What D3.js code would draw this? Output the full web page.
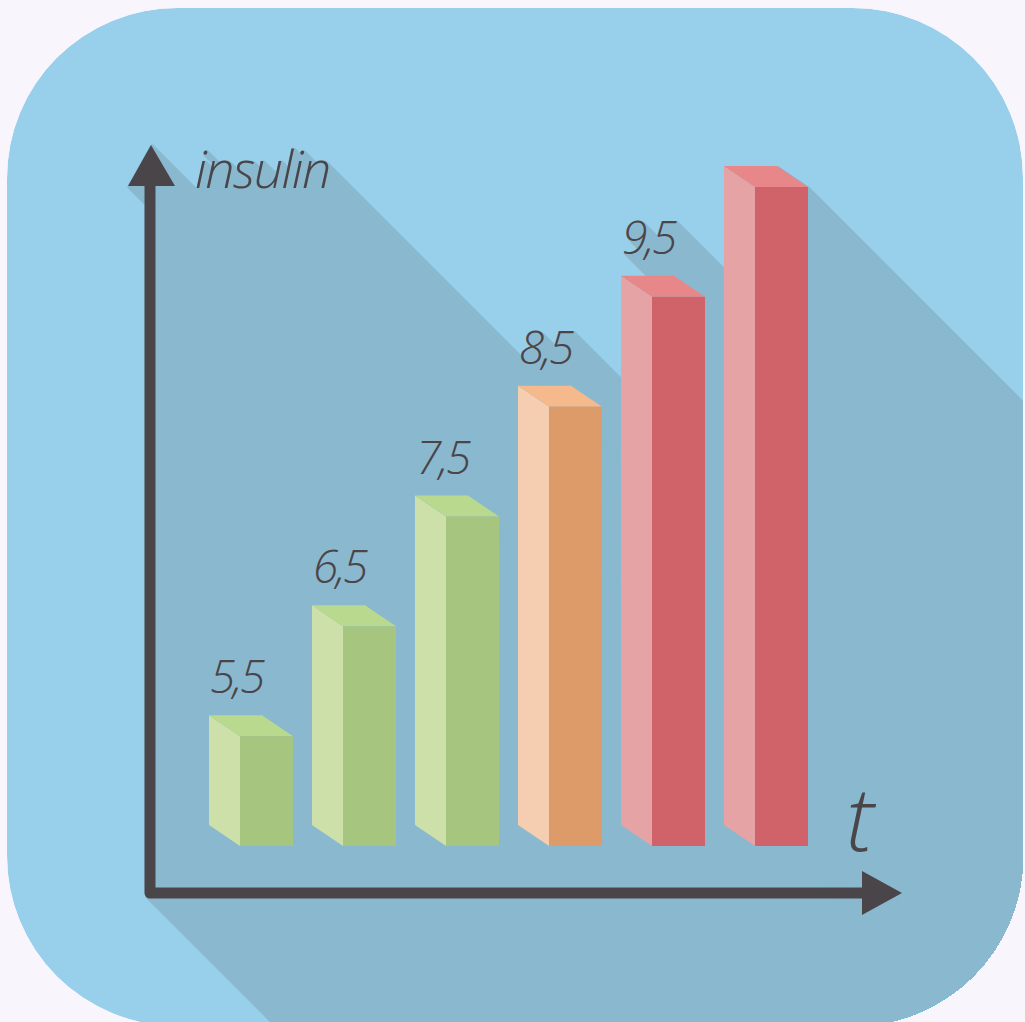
<!DOCTYPE html>
<html><head><meta charset="utf-8">
<script src="https://cdn.jsdelivr.net/npm/d3@7"></script>
<style>html,body{margin:0;padding:0;background:#f9f5fd;overflow:hidden}</style>
</head><body>
<svg id="c" width="1025" height="1022"></svg>
<script>
const categories = ["t1","t2","t3","t4","t5","t6"];
const values = [5.5, 6.5, 7.5, 8.5, 9.5, 10.5];
const valueLabels = ["5,5","6,5","7,5","8,5","9,5",""];
const colorGroups = ["green","green","green","orange","red","red"];
const yTitle = "insulin";
const xTitle = "t";

const palette = {
  green:  {top:"#b9d98f", left:"#cde0a9", front:"#a6c680"},
  orange: {top:"#f5b98c", left:"#f5cdb0", front:"#dc9b69"},
  red:    {top:"#e8878a", left:"#e6a3a6", front:"#cf6369"}
};
const BG = "#98cfeb", SHADOW = "#8ab9cf", INK = "#4a4549";
const FONT = "'Open Sans', sans-serif";

const svg = d3.select("#c");
const x = d3.scaleBand().domain(categories).range([240, 808]).paddingInner(50/103).paddingOuter(0);
const y = d3.scaleLinear().domain([4.5, 10.5]).range([846, 187]);
const DX = 31, DY = 21;
const axisX = 150, axisY = 893;

svg.append("rect").attr("width",1025).attr("height",1022).attr("fill","#f9f5fd");
const defs = svg.append("defs");
defs.append("clipPath").attr("id","card").append("rect")
  .attr("x",7).attr("y",8).attr("width",1016).attr("height",1018).attr("rx",170).attr("ry",170);

const card = svg.append("g").attr("clip-path","url(#card)");
card.append("rect").attr("x",7).attr("y",8).attr("width",1016).attr("height",1018).attr("rx",170).attr("fill",BG);

function drawScene(g, shadow) {
  const f = (c) => shadow ? SHADOW : c;
  const sw = shadow ? 1.6 : 0;
  const outline = (sel, w) => { if (shadow) sel.attr("stroke", SHADOW).attr("stroke-width", w || sw).attr("stroke-linejoin","round"); return sel; };
  g.append("path")
    .attr("d", `M${axisX},182 L${axisX},${axisY} L865,${axisY}`)
    .attr("fill","none").attr("stroke", f(INK)).attr("stroke-width", 11 + sw).attr("stroke-linejoin","round");
  outline(g.append("path").attr("d", `M${axisX+1},145 L175,186 L128,186 Z`).attr("fill", f(INK)), 3.5);
  outline(g.append("path").attr("d", `M902,${axisY} L862,915 L862,871 Z`).attr("fill", f(INK)), 3);
  const bars = g.selectAll("g.bar").data(values).join("g").attr("class","bar");
  bars.each(function(v,i){
    const b = d3.select(this);
    const x0 = x(categories[i]), x1 = x0 + x.bandwidth();
    const yt = y(v), yb = y.range()[0];
    const c = palette[colorGroups[i]];
    outline(b.append("path").attr("d", `M${x0-DX},${yt-DY} L${x0},${yt} L${x0},${yb} L${x0-DX},${yb-DY} Z`).attr("fill", f(c.left)));
    outline(b.append("path").attr("d", `M${x0-DX},${yt-DY} L${x1-DX},${yt-DY} L${x1},${yt} L${x0},${yt} Z`).attr("fill", f(c.top)));
    outline(b.append("rect").attr("x",x0).attr("y",yt).attr("width",x.bandwidth()).attr("height",yb-yt).attr("fill", f(c.front)));
    if (valueLabels[i]) {
      outline(b.append("text").attr("x", x0-DX+1).attr("y", yt-DY-22)
        .attr("font-family",FONT).attr("font-style","italic").attr("font-weight",300)
        .attr("font-size",46).attr("letter-spacing",-2.5).attr("fill", f(INK)).text(valueLabels[i]));
    }
  });
  outline(g.append("text").attr("x",195).attr("y",188).attr("font-family",FONT).attr("font-style","italic")
    .attr("font-weight",300).attr("font-size",52).attr("letter-spacing",-1.5).attr("fill", f(INK)).text(yTitle), 2.5);
  outline(g.append("text").attr("x",846).attr("y",851).attr("font-family",FONT).attr("font-style","italic")
    .attr("font-weight",300).attr("font-size",88).attr("fill", f(INK)).text(xTitle));
}

const caster = defs.append("g").attr("id","caster");
drawScene(caster, true);
const shadowG = card.append("g");
for (let t = 1; t <= 1000; t += 1) {
  shadowG.append("use").attr("href","#caster").attr("transform",`translate(${t},${t})`);
}
drawScene(card.append("g"), false);
</script>
</body></html>
